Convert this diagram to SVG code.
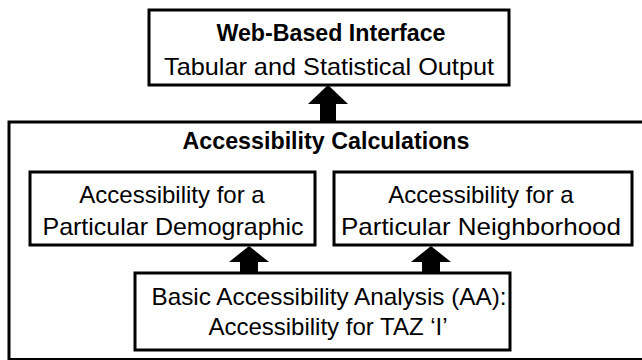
<svg xmlns="http://www.w3.org/2000/svg" width="642" height="360" viewBox="0 0 642 360">
<style>
.box{fill:#fff;stroke:#000;stroke-width:3}
.t{font-family:"Liberation Sans",Arial,sans-serif;font-size:24px;fill:#000;text-anchor:middle}
.b{font-weight:bold}
.arr{fill:#000}
</style>
<rect width="642" height="360" fill="#fff"/>
<g id="outer">
<rect class="box" x="9" y="122" width="650" height="237.5"/>
<text class="t b" x="326" y="149" textLength="287" lengthAdjust="spacingAndGlyphs">Accessibility Calculations</text>
</g>
<g id="web">
<rect class="box" x="149" y="10" width="360" height="75"/>
<text class="t b" x="331" y="41" textLength="229" lengthAdjust="spacingAndGlyphs">Web-Based Interface</text>
<text class="t" x="329" y="75" textLength="330" lengthAdjust="spacingAndGlyphs">Tabular and Statistical Output</text>
</g>
<g id="demographic">
<rect class="box" x="30" y="172" width="285" height="73"/>
<text class="t" x="172" y="203">Accessibility for a</text>
<text class="t" x="173" y="235" textLength="261" lengthAdjust="spacingAndGlyphs">Particular Demographic</text>
</g>
<g id="neighborhood">
<rect class="box" x="334" y="172" width="298" height="73"/>
<text class="t" x="481" y="203">Accessibility for a</text>
<text class="t" x="481" y="235" textLength="280" lengthAdjust="spacingAndGlyphs">Particular Neighborhood</text>
</g>
<g id="basic">
<rect class="box" x="135" y="273" width="375" height="77"/>
<text class="t" x="329" y="305" textLength="355" lengthAdjust="spacingAndGlyphs">Basic Accessibility Analysis (AA):</text>
<text class="t" x="328" y="335">Accessibility for TAZ ‘I’</text>
</g>
<g id="connectors">
<polygon class="arr" points="328,85 348,104 336,104 336,121 320,121 320,104 308,104"/>
<polygon class="arr" points="249,246 269,262 258,262 258,272 240,272 240,262 229,262"/>
<polygon class="arr" points="431,246 451,262 440,262 440,272 422,272 422,262 411,262"/>
</g>
</svg>
